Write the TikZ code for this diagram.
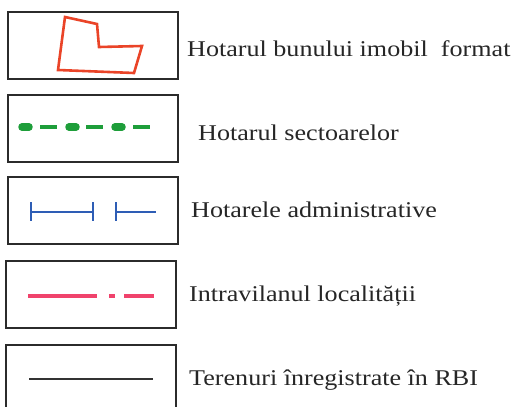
\documentclass[tikz,border=0pt]{standalone}
\usepackage{fontspec}
\setmainfont{Liberation Serif}
\newfontfamily\legfont[FakeStretch=1.16]{Liberation Serif}
\definecolor{boxgray}{HTML}{2B2B2B}
\definecolor{polyred}{HTML}{EA4428}
\definecolor{sectgreen}{HTML}{1E9E3A}
\definecolor{admblue}{HTML}{2E5DB5}
\definecolor{intrapink}{HTML}{F0436C}
\begin{document}
\begin{tikzpicture}[x=1pt,y=-1pt,
  legbox/.style={draw=boxgray,line width=1.6pt,minimum width=170pt,minimum height=67pt,inner sep=0pt,anchor=north west},
  legtext/.style={anchor=base west,inner sep=0pt,font=\legfont\fontsize{22.5}{26}\selectfont,text=black!85}]
\useasboundingbox (0,0) rectangle (518,406);
% boxes
\node[legbox] (b1) at (7,11) {};
\node[legbox] (b2) at (7,94) {};
\node[legbox] (b3) at (7,176) {};
\node[legbox] (b4) at (5,260) {};
\node[legbox,minimum height=80pt] (b5) at (5,344) {};
% symbol 1: polygon
\draw[polyred,line width=2.6pt,line join=miter] (65,17) -- (97,24) -- (99,47) -- (142,46) -- (134,73) -- (58,70) -- cycle;
% symbol 2: green sector boundary
\foreach \a in {18,65,111} {\draw[sectgreen,line width=7.5pt,line cap=round] (\a+4,127) -- (\a+11,127);}
\foreach \a/\b in {40/57,86/103,133/150} {\draw[sectgreen,line width=3.5pt] (\a,127) -- (\b,127);}
% symbol 3: administrative
\draw[admblue,line width=2.4pt] (31,212) -- (93,212);
\draw[admblue,line width=2.4pt] (31,202) -- (31,221);
\draw[admblue,line width=2.4pt] (93,202) -- (93,221);
\draw[admblue,line width=2.4pt] (116,212) -- (156,212);
\draw[admblue,line width=2.4pt] (116,202) -- (116,221);
% symbol 4: intravilan
\draw[intrapink,line width=3.5pt] (28,296) -- (97,296);
\draw[intrapink,line width=3.5pt] (109,296) -- (115,296);
\draw[intrapink,line width=3.5pt] (124,296) -- (154,296);
% symbol 5: black thin line
\draw[black!80,line width=1.2pt] (29,379) -- (153,379);
% texts
\node[legtext] (t1) at (187,57) {Hotarul bunului imobil\ \ format};
\node[legtext] (t2) at (198,140) {Hotarul sectoarelor};
\node[legtext] (t3) at (191,217) {Hotarele administrative};
\node[legtext] (t4) at (189,301) {Intravilanul localității};
\node[legtext] (t5) at (189,385) {Terenuri înregistrate în RBI};
\end{tikzpicture}
\end{document}
